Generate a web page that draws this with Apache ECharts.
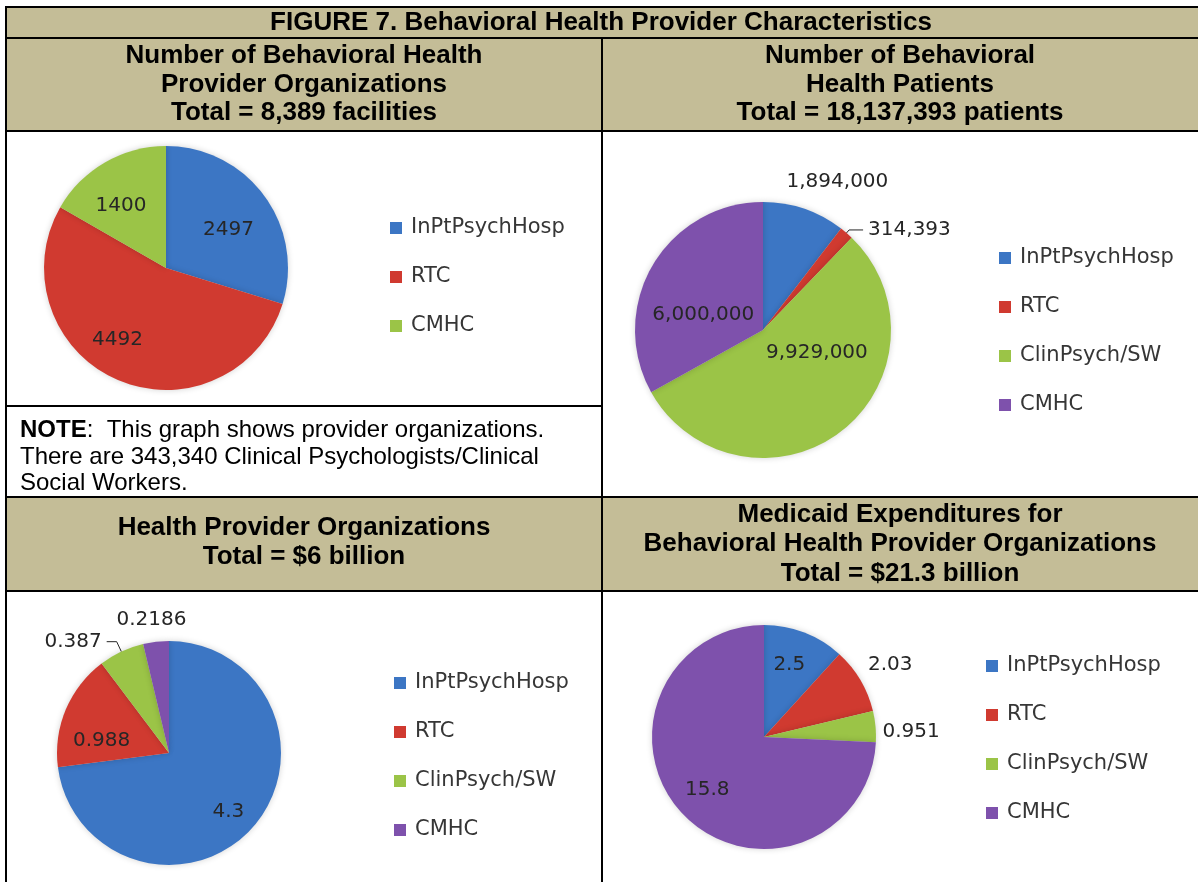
<!DOCTYPE html>
<html>
<head>
<meta charset="utf-8">
<title>Figure 7</title>
<script src="https://cdn.jsdelivr.net/npm/echarts@6/dist/echarts.min.js"></script>
<style>
html, body { margin: 0; padding: 0; background: #fff; }
#chart { width: 1198px; height: 882px; }
</style>
</head>
<body>
<div id="chart"></div>
<script>
// ---- data ----
const orgNames = ['InPtPsychHosp', 'RTC', 'CMHC'];
const orgCounts = [2497, 4492, 1400];

const patientNames = ['InPtPsychHosp', 'RTC', 'ClinPsych/SW', 'CMHC'];
const patientCounts = [1894000, 314393, 9929000, 6000000];

const spendNames = ['InPtPsychHosp', 'RTC', 'ClinPsych/SW', 'CMHC'];
const spendBillions = [4.3, 0.988, 0.387, 0.2186];

const medicaidNames = ['InPtPsychHosp', 'RTC', 'ClinPsych/SW', 'CMHC'];
const medicaidBillions = [2.5, 2.03, 0.951, 15.8];

const figureTitle = 'FIGURE 7. Behavioral Health Provider Characteristics';
const panelTitles = [
    ['Number of Behavioral Health', 'Provider Organizations', 'Total = 8,389 facilities'],
    ['Number of Behavioral', 'Health Patients', 'Total = 18,137,393 patients'],
    ['Health Provider Organizations', 'Total = $6 billion'],
    ['Medicaid Expenditures for', 'Behavioral Health Provider Organizations', 'Total = $21.3 billion']
];
const noteLines = [
    '{b|NOTE}:  This graph shows provider organizations.',
    'There are 343,340 Clinical Psychologists/Clinical',
    'Social Workers.'
];

// ---- styling ----
const BLUE = '#3c76c4', RED = '#d03a30', GREEN = '#9bc447', PURPLE = '#7e51ac';
const TAN = '#c4bd97';
const headFont = '"Liberation Sans", Arial, sans-serif';
const chartFont = '"DejaVu Sans", sans-serif';

const chart = echarts.init(document.getElementById('chart'));

// per-slice label placement: inside/outside, leader line, nudge
function makePie(names, values, colors, center, radius, labels, fmt) {
    return {
        type: 'pie',
        center: center,
        radius: radius,
        startAngle: 90,
        clockwise: true,
        avoidLabelOverlap: false,
        minShowLabelAngle: 0,
        itemStyle: { borderWidth: 0, shadowBlur: 6, shadowColor: 'rgba(0,0,0,0.18)' },
        label: {
            fontFamily: chartFont, fontSize: 20, color: '#262626',
            formatter: function (p) { return fmt(p.value) }
        },
        labelLine: { lineStyle: { color: '#262626', width: 1 } },
        emphasis: { disabled: true },
        labelLayout: function (p) {
            const c = labels[p.dataIndex]
            if (c.line) return {}
            return { dx: c.dx || 0, dy: (c.dy || 0) + 3 }
        },
        data: names.map(function (n, i) {
            const c = labels[i]
            return {
                name: n,
                value: values[i],
                itemStyle: { color: colors[i] },
                label: { position: c.pos },
                labelLine: { show: !!c.line, length: c.len || 4, length2: c.len2 || 14 }
            }
        })
    }
}

function legendFor(names, colors, left, top) {
    return {
        orient: 'vertical',
        left: left,
        top: top,
        icon: 'rect',
        itemWidth: 12,
        itemHeight: 12,
        itemGap: 25,
        selectedMode: false,
        textStyle: { fontFamily: chartFont, fontSize: 21, color: '#363636', lineHeight: 24, padding: [0, 0, 0, 4] },
        data: names.map(function (n, i) { return { name: n, itemStyle: { color: colors[i] } } })
    }
}

const plain = function (v) { return String(v) }
const commas = function (v) { return v.toLocaleString('en-US') }

// ---- table frame ----
const graphic = []
function box(x, y, w, h, fill) {
    graphic.push({ type: 'rect', z: 0, shape: { x: x, y: y, width: w, height: h }, style: { fill: fill } })
}
function rule(x1, y1, x2, y2) {
    graphic.push({ type: 'line', z: 20, shape: { x1: x1, y1: y1, x2: x2, y2: y2 }, style: { stroke: '#000', lineWidth: 2 } })
}
function heading(lines, cx, ys) {
    lines.forEach(function (t, i) {
        graphic.push({
            type: 'text', z: 20,
            style: { text: t, x: cx, y: ys[i], textAlign: 'center', textVerticalAlign: 'middle',
                font: 'bold 26px ' + headFont, fill: '#000' }
        })
    })
}

box(6, 7, 1192, 31, TAN)
box(6, 38, 1192, 93, TAN)
box(6, 497, 1192, 94, TAN)
rule(5, 7, 1198, 7)
rule(5, 38, 1198, 38)
rule(5, 131, 1198, 131)
rule(5, 406, 602, 406)
rule(5, 497, 1198, 497)
rule(5, 591, 1198, 591)
rule(6, 6, 6, 882)
rule(602, 38, 602, 882)

heading([figureTitle], 601, [23])
heading(panelTitles[0], 304, [56, 84.5, 113])
heading(panelTitles[1], 900, [56, 84.5, 113])
heading(panelTitles[2], 304, [528, 557])
heading(panelTitles[3], 900, [515, 544, 574])

noteLines.forEach(function (t, i) {
    graphic.push({
        type: 'text', z: 20,
        style: { text: t, x: 20, y: [430, 457, 483][i], textVerticalAlign: 'middle',
            font: '24px ' + headFont, fill: '#000',
            rich: { b: { font: 'bold 24px ' + headFont, fill: '#000' } } }
    })
})

const option = {
    animation: false,
    backgroundColor: '#fff',
    graphic: graphic,
    legend: [
        legendFor(orgNames, [BLUE, RED, GREEN], 385, 211),
        legendFor(patientNames, [BLUE, RED, GREEN, PURPLE], 994, 241),
        legendFor(spendNames, [BLUE, RED, GREEN, PURPLE], 389, 666),
        legendFor(medicaidNames, [BLUE, RED, GREEN, PURPLE], 981, 649)
    ],
    series: [
        makePie(orgNames, orgCounts, [BLUE, RED, GREEN], [166, 268], 122, [
            { pos: 'inside', dx: 11, dy: -3 },
            { pos: 'inside', dx: -23, dy: 10 },
            { pos: 'inside', dx: -13, dy: -10 }
        ], plain),
        makePie(patientNames, patientCounts, [BLUE, RED, GREEN, PURPLE], [763, 330], 128, [
            { pos: 'outside', dx: -38, dy: -26 },
            { pos: 'outside', line: true, len: 4, len2: 14 },
            { pos: 'inside', dx: 13, dy: -33 },
            { pos: 'inside', dx: -2, dy: 16 }
        ], commas),
        makePie(spendNames, spendBillions, [BLUE, RED, GREEN, PURPLE], [169, 753], 112, [
            { pos: 'inside', dx: 15, dy: 17 },
            { pos: 'inside', dx: -13, dy: 8 },
            { pos: 'outside', line: true, len: 11, len2: 10 },
            { pos: 'outside', dx: 50, dy: -21 }
        ], plain),
        makePie(medicaidNames, medicaidBillions, [BLUE, RED, GREEN, PURPLE], [764, 737], 112, [
            { pos: 'inside', dx: 4, dy: -20 },
            { pos: 'outside', dx: -15, dy: -16 },
            { pos: 'outside', dx: -16, dy: 3 },
            { pos: 'inside', dx: -14, dy: 9 }
        ], plain)
    ]
}

chart.setOption(option)
</script>
</body>
</html>
